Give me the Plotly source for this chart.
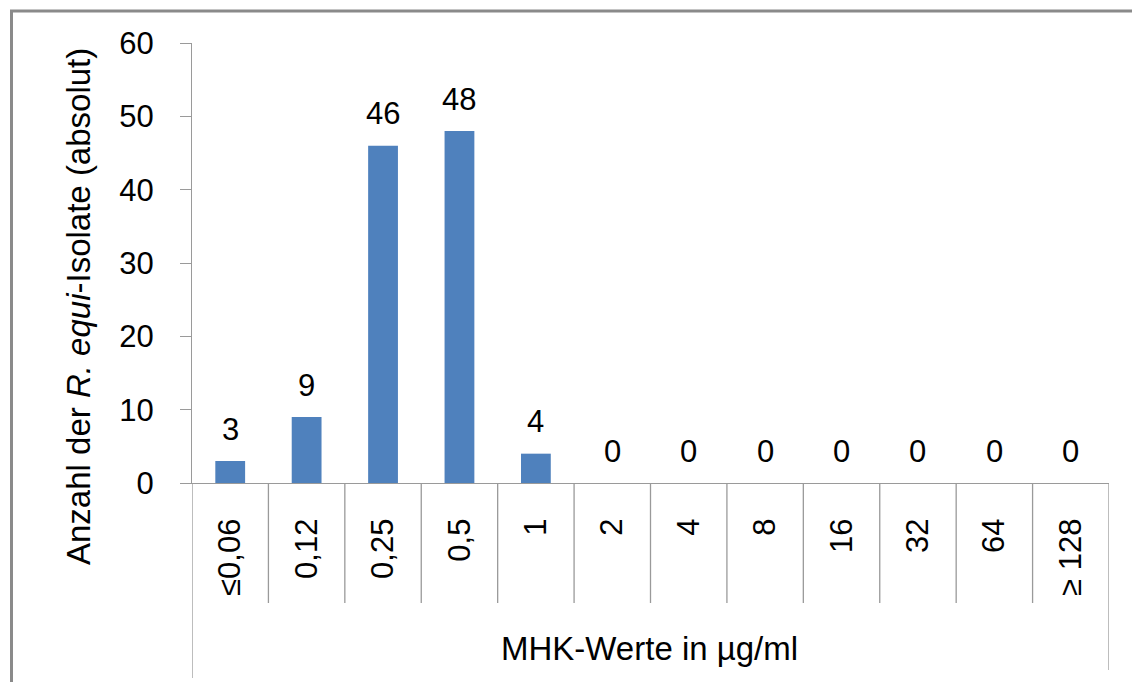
import plotly.graph_objects as go

# MIC classes (µg/ml) and number of R. equi isolates per class
mic_classes = ["≤0,06", "0,12", "0,25", "0,5", "1", "2", "4", "8", "16", "32", "64", "≥ 128"]
isolate_counts = [3, 9, 46, 48, 4, 0, 0, 0, 0, 0, 0, 0]
y_ticks = [0, 10, 20, 30, 40, 50, 60]

W, H = 1132, 682
L, R, T, B = 192, 23, 43, 199
PW, PH = W - L - R, H - T - B

def px_x(px):
    return (px - L) / PW

def px_y(py):
    return (H - B - py) / PH

LINE = "#9a9a9a"
FONT = "Liberation Sans, Arial, sans-serif"

fig = go.Figure()
fig.add_trace(go.Bar(
    x=mic_classes,
    y=isolate_counts,
    marker=dict(color="#4F81BD", line=dict(width=0)),
    width=0.39,
    hoverinfo="x+y",
))

annotations = []
# value labels above each bar (category axis positions are the class indices)
for idx, val in enumerate(isolate_counts):
    annotations.append(dict(
        x=idx, y=val, xref="x", yref="y", text=str(val), showarrow=False,
        xanchor="center", yanchor="middle", yshift=32,
        font=dict(size=31, color="#000000", family=FONT),
    ))

annotations.append(dict(
    x=px_x(649), y=px_y(648), xref="paper", yref="paper",
    text="MHK-Werte in µg/ml", showarrow=False, xanchor="center", yanchor="middle",
    font=dict(size=33, color="#000000", family=FONT),
))
annotations.append(dict(
    x=px_x(78), y=px_y(307), xref="paper", yref="paper",
    text="Anzahl der <i>R. equi</i>-Isolate (absolut)", showarrow=False,
    textangle=-90, xanchor="center", yanchor="middle",
    font=dict(size=33, color="#000000", family=FONT),
))

shapes = []
# category separators below the axis
for i in range(len(mic_classes) - 1):
    shapes.append(dict(type="line", xref="x", yref="paper",
                       x0=i + 0.5, x1=i + 0.5, y0=0, y1=px_y(603),
                       line=dict(color=LINE, width=1.3)))
# outer frame of the category block
shapes.append(dict(type="line", xref="x", yref="paper",
                   x0=len(mic_classes) - 0.5, x1=len(mic_classes) - 0.5, y0=0, y1=px_y(670),
                   line=dict(color=LINE, width=1.3)))
shapes.append(dict(type="line", xref="x", yref="paper",
                   x0=-0.5, x1=-0.5, y0=0, y1=px_y(678),
                   line=dict(color=LINE, width=1.3)))
# chart border
shapes.append(dict(type="line", xref="paper", yref="paper",
                   x0=px_x(11.5), x1=px_x(11.5), y0=px_y(10), y1=px_y(700),
                   line=dict(color="#8a8a8a", width=3)))
shapes.append(dict(type="line", xref="paper", yref="paper",
                   x0=px_x(10), x1=px_x(1150), y0=px_y(11), y1=px_y(11),
                   line=dict(color="#8a8a8a", width=3)))

fig.update_layout(
    width=W, height=H,
    margin=dict(l=L, r=R, t=T, b=B, pad=0),
    paper_bgcolor="white", plot_bgcolor="white",
    showlegend=False,
    bargap=0.6,
    font=dict(family=FONT, color="#000000"),
    annotations=annotations,
    shapes=shapes,
    xaxis=dict(
        type="category", range=[-0.5, len(mic_classes) - 0.5],
        showline=True, linecolor=LINE, linewidth=1.3,
        showgrid=False, zeroline=False, ticks="",
        tickangle=-90, tickfont=dict(size=31, family=FONT, color="#000000"),
        ticklabelstandoff=22,
    ),
    yaxis=dict(
        range=[0, 60], tickvals=y_ticks, ticktext=[str(v) for v in y_ticks],
        showline=True, linecolor=LINE, linewidth=1.3,
        ticks="outside", ticklen=11, tickcolor=LINE, tickwidth=1.3,
        showgrid=False, zeroline=False,
        tickfont=dict(size=31, family=FONT, color="#000000"),
        ticklabelstandoff=20,
    ),
)

fig.write_html("out.html")
